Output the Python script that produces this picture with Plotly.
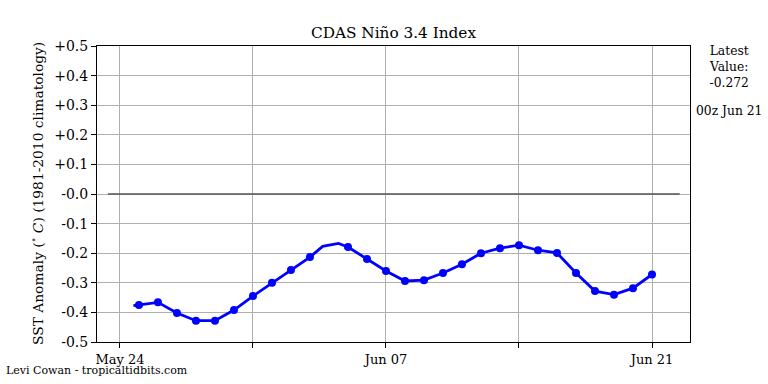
import plotly.graph_objects as go

# Daily 00z values (markers)
dates = ["2024-05-25", "2024-05-26", "2024-05-27", "2024-05-28", "2024-05-29", "2024-05-30",
         "2024-05-31", "2024-06-01", "2024-06-02", "2024-06-03", "2024-06-05", "2024-06-06",
         "2024-06-07", "2024-06-08", "2024-06-09", "2024-06-10", "2024-06-11", "2024-06-12",
         "2024-06-13", "2024-06-14", "2024-06-15", "2024-06-16", "2024-06-17", "2024-06-18",
         "2024-06-19", "2024-06-20", "2024-06-21"]
values = [-0.375, -0.366, -0.402, -0.428, -0.428, -0.392,
          -0.345, -0.300, -0.257, -0.213, -0.179, -0.220,
          -0.260, -0.294, -0.291, -0.267, -0.237, -0.200,
          -0.183, -0.173, -0.190, -0.199, -0.267, -0.328,
          -0.340, -0.318, -0.272]

# Extra line-only points (sub-daily)
extra_dates = ["2024-05-24 17:00", "2024-06-03 16:00", "2024-06-04 12:00"]
extra_values = [-0.377, -0.177, -0.167]

zero_x = ["2024-05-23 09:00", "2024-06-22 11:00"]
zero_y = [0.0, 0.0]

tick_dates = ["2024-05-24", "2024-06-07", "2024-06-21"]
tick_text = ["May 24", "Jun 07", "Jun 21"]
minor_tick_dates = ["2024-05-31", "2024-06-14"]

y_ticks = [0.5, 0.4, 0.3, 0.2, 0.1, 0.0, -0.1, -0.2, -0.3, -0.4, -0.5]
y_text = ["+0.5", "+0.4", "+0.3", "+0.2", "+0.1", "-0.0", "-0.1", "-0.2", "-0.3", "-0.4", "-0.5"]

line_pts = sorted(list(zip(dates, values)) + list(zip(extra_dates, extra_values)))
lx = [p[0] for p in line_pts]
ly = [p[1] for p in line_pts]

FONT = "DejaVu Serif"
L, R, T, B = 97, 78, 46, 42
W, H = 768, 384

fig = go.Figure()
fig.add_trace(go.Scatter(x=zero_x, y=zero_y, mode="lines",
                         line=dict(color="#555555", width=1.5), hoverinfo="skip"))
fig.add_trace(go.Scatter(x=lx, y=ly, mode="lines",
                         line=dict(color="#0000ff", width=2.8)))
fig.add_trace(go.Scatter(x=dates, y=values, mode="markers",
                         marker=dict(color="#0000ff", size=8)))

pw = W - L - R
ph = H - T - B


def px(x):
    return (x - L) / pw


def py(y):
    return (H - B - y) / ph


fig.update_layout(
    width=W, height=H,
    margin=dict(l=L, r=R, t=T, b=B, autoexpand=False),
    paper_bgcolor="white", plot_bgcolor="white",
    showlegend=False,
    font=dict(family=FONT, color="black", size=13),
    title=dict(text="CDAS Niño 3.4 Index", x=393.5 / W, xanchor="center",
               y=1 - 33 / H, yanchor="middle", font=dict(size=15.3, family=FONT)),
    xaxis=dict(range=["2024-05-22 19:00", "2024-06-23 00:00"],
               tickvals=tick_dates, ticktext=tick_text,
               showgrid=True, gridcolor="#b0b0b0", gridwidth=1,
               ticks="outside", ticklen=5, tickcolor="black",
               minor=dict(tickvals=minor_tick_dates, ticks="outside", ticklen=5,
                          tickcolor="black", showgrid=True, gridcolor="#b0b0b0",
                          gridwidth=1),
               showline=True, linecolor="black", linewidth=1, mirror=True,
               tickfont=dict(size=13, family=FONT), zeroline=False, automargin=False),
    yaxis=dict(range=[-0.5, 0.5], tickvals=y_ticks, ticktext=y_text,
               showgrid=True, gridcolor="#b0b0b0", gridwidth=1,
               ticks="outside", ticklen=5, tickcolor="black",
               showline=True, linecolor="black", linewidth=1, mirror=True,
               tickfont=dict(size=14, family=FONT), zeroline=False, automargin=False),
    annotations=[
        dict(text="SST Anomaly (<sup>∘</sup> <i>C</i>) (1981-2010 climatology)",
             x=px(37), y=py(194), xref="paper", yref="paper", textangle=-90,
             xanchor="center", yanchor="middle", showarrow=False,
             font=dict(size=13.8, family=FONT)),
        dict(text="Latest<br>Value:<br>-0.272", x=px(729), y=py(67), xref="paper", yref="paper",
             xanchor="center", yanchor="middle",
             showarrow=False, font=dict(size=12.3, family=FONT), align="center"),
        dict(text="00z Jun 21", x=px(729), y=py(111), xref="paper", yref="paper",
             xanchor="center", yanchor="middle",
             showarrow=False, font=dict(size=12.3, family=FONT)),
        dict(text="Levi Cowan - tropicaltidbits.com", x=px(4), y=py(370),
             xref="paper", yref="paper", showarrow=False,
             xanchor="left", yanchor="middle", font=dict(size=11, family=FONT)),
    ],
)

fig.write_html("out.html", config={"displayModeBar": False},
               post_script="document.body.style.margin='0';")
